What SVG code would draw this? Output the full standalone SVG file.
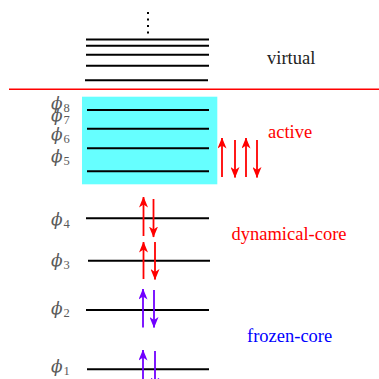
<svg xmlns="http://www.w3.org/2000/svg" width="379" height="379" viewBox="0 0 379 379">
<style>
.lvl{stroke:#000;stroke-width:2;fill:none}
.phi{font-family:"DejaVu Serif",serif;font-style:italic;font-size:17px;fill:#5a5a5a}
.sub{font-family:"Liberation Serif",serif;font-style:normal;font-size:12.5px}
.lab{font-family:"Liberation Serif",serif;font-size:18.5px}
.ar{stroke:#f00;stroke-width:1.8;fill:none;marker-end:url(#ahr)}
.ap{stroke:#7000ff;stroke-width:1.8;fill:none;marker-end:url(#ahp)}
</style>
<defs>
<marker id="ahr" viewBox="0 0 11 9" refX="10.5" refY="4.5" markerWidth="11" markerHeight="9" markerUnits="userSpaceOnUse" orient="auto">
<path d="M11,4.5 L0,0 L3,4.5 L0,9 Z" fill="#f00"/>
</marker>
<marker id="ahp" viewBox="0 0 11 9" refX="10.5" refY="4.5" markerWidth="11" markerHeight="9" markerUnits="userSpaceOnUse" orient="auto">
<path d="M11,4.5 L0,0 L3,4.5 L0,9 Z" fill="#7000ff"/>
</marker>
</defs>
<g id="virtual">
<line x1="148" y1="12" x2="148" y2="34" stroke="#000" stroke-width="2" stroke-dasharray="2 4.5"/>
<line class="lvl" x1="86" y1="39.5" x2="209" y2="39.5"/>
<line class="lvl" x1="86" y1="45.7" x2="209" y2="45.7"/>
<line class="lvl" x1="86" y1="54.7" x2="209" y2="54.7"/>
<line class="lvl" x1="86" y1="65.7" x2="209" y2="65.7"/>
<line class="lvl" x1="85" y1="80.3" x2="208" y2="80.3"/>
<text class="lab" x="267" y="64" fill="#222">virtual</text>
</g>
<line id="divider" x1="9" y1="89.3" x2="379" y2="89.3" stroke="#f00" stroke-width="1.5"/>
<g id="active">
<rect x="82" y="96.7" width="135.3" height="87.6" fill="#66ffff"/>
<line class="lvl" x1="87" y1="110" x2="209" y2="110"/>
<line class="lvl" x1="87" y1="128.7" x2="209" y2="128.7"/>
<line class="lvl" x1="87" y1="148.3" x2="209" y2="148.3"/>
<line class="lvl" x1="87" y1="171.3" x2="209" y2="171.3"/>
<text class="phi" x="51" y="108.5">ϕ<tspan class="sub" dx="1" dy="3">8</tspan></text>
<text class="phi" x="51" y="120.5">ϕ<tspan class="sub" dx="1" dy="3">7</tspan></text>
<text class="phi" x="51" y="139.5">ϕ<tspan class="sub" dx="1" dy="3">6</tspan></text>
<text class="phi" x="51" y="162">ϕ<tspan class="sub" dx="1" dy="3">5</tspan></text>
<text class="lab" x="268" y="137.7" fill="#f00">active</text>
</g>
<g id="dynamical-core">
<line class="lvl" x1="86" y1="218.3" x2="209" y2="218.3"/>
<line class="lvl" x1="88" y1="260.7" x2="210" y2="260.7"/>
<text class="phi" x="51" y="225">ϕ<tspan class="sub" dx="1" dy="3">4</tspan></text>
<text class="phi" x="51" y="265.5">ϕ<tspan class="sub" dx="1" dy="3">3</tspan></text>
<text class="lab" x="231.5" y="240" fill="#f00">dynamical-core</text>
</g>
<g id="frozen-core">
<line class="lvl" x1="86" y1="310" x2="209" y2="310"/>
<line class="lvl" x1="87" y1="369.3" x2="209" y2="369.3"/>
<text class="phi" x="51" y="313.7">ϕ<tspan class="sub" dx="1" dy="3">2</tspan></text>
<text class="phi" x="51" y="372">ϕ<tspan class="sub" dx="1" dy="3">1</tspan></text>
<text class="lab" x="247" y="342" fill="#0000ff">frozen-core</text>
</g>
<g id="connectors">
<line class="ar" x1="222" y1="177" x2="222" y2="138"/>
<line class="ar" x1="235" y1="140" x2="235" y2="177.5"/>
<line class="ar" x1="246" y1="177" x2="246" y2="138"/>
<line class="ar" x1="257" y1="140" x2="257" y2="177.5"/>
<line class="ar" x1="143.5" y1="236" x2="143.5" y2="197"/>
<line class="ar" x1="153.5" y1="199" x2="153.5" y2="237"/>
<line class="ar" x1="143.5" y1="279" x2="143.5" y2="242"/>
<line class="ar" x1="155" y1="242" x2="155" y2="279.5"/>
<line class="ap" x1="143" y1="327.5" x2="143" y2="289"/>
<line class="ap" x1="154" y1="290" x2="154" y2="327.5"/>
<line class="ap" x1="143" y1="390" x2="143" y2="350"/>
<line class="ap" x1="155" y1="351" x2="155" y2="388"/>
</g>
</svg>
